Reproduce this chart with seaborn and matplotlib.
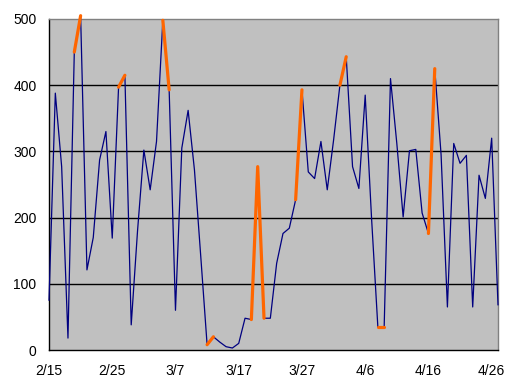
import numpy as np
import pandas as pd
import matplotlib
matplotlib.use("Agg")
import matplotlib.pyplot as plt
import seaborn as sns

# ---- data (daily values from 2/15 to 4/27) ----
blue_values = [75, 388, 277, 18, 450, 505, 121, 170, 287, 330,
               169, 397, 415, 38, 180, 302, 242, 315, 498, 393,
               60, 305, 362, 272, 141, 8, 20, 12, 5, 3,
               10, 48, 46, 277, 48, 48, 131, 176, 184, 227,
               393, 269, 259, 315, 242, 317, 400, 443, 277, 244,
               385, 200, 35, 35, 410, 312, 201, 301, 303, 207,
               176, 425, 295, 65, 312, 282, 294, 65, 264, 229,
               320, 68]
N = None
orange_values = [N, N, N, N, 450, 505, N, N, N, N,
                 N, 397, 415, N, N, N, N, N, 498, 393,
                 N, N, N, N, N, 8, 20, N, N, N,
                 N, N, 46, 277, 48, N, N, N, N, 227,
                 393, N, N, N, N, N, 400, 443, N, N,
                 N, N, 35, 35, N, N, N, N, N, N,
                 176, 425, N, N, N, N, N, N, N, N,
                 N, N]
tick_days = [0, 10, 20, 30, 40, 50, 60, 70]
tick_labels = ["2/15", "2/25", "3/7", "3/17", "3/27", "4/6", "4/16", "4/26"]
y_ticks = [0, 100, 200, 300, 400, 500]

days = np.arange(len(blue_values))
df_blue = pd.DataFrame({"day": days, "value": blue_values})
ov = pd.Series(orange_values, dtype=float)
seg = ov.isna().cumsum()
df_or = pd.DataFrame({"day": days, "value": ov, "seg": seg}).dropna()

sns.set_style("white")
plt.rcParams["font.family"] = ["Liberation Sans", "DejaVu Sans"]

fig = plt.figure(figsize=(5.22, 3.89), dpi=100)
ax = fig.add_axes([49/522, 1 - 350/389, (498 - 49)/522, (350 - 19)/389])
ax.set_facecolor("#C0C0C0")

for yv in y_ticks[1:-1]:
    ax.axhline(yv, color="black", lw=1.0, zorder=1)

sns.lineplot(data=df_blue, x="day", y="value", color="#000080", lw=0.9,
             ax=ax, zorder=3, estimator=None, clip_on=False)
sns.lineplot(data=df_or, x="day", y="value", units="seg", estimator=None,
             color="#FF6600", lw=2.3, ax=ax, zorder=4, clip_on=False)

ax.set_xlim(0, 71)
ax.set_ylim(0, 500)
ax.set_xticks(tick_days)
ax.set_xticklabels(tick_labels)
ax.set_yticks(y_ticks)
ax.set_xlabel("")
ax.set_ylabel("")
ax.tick_params(axis="both", direction="in", length=4, width=1, color="black",
               labelsize=10, labelcolor="black")
ax.tick_params(axis="x", pad=10)
ax.tick_params(axis="y", pad=9)

for side in ["left", "bottom"]:
    ax.spines[side].set_color("black")
    ax.spines[side].set_linewidth(1.0)
for side in ["top", "right"]:
    ax.spines[side].set_color("#808080")
    ax.spines[side].set_linewidth(1.0)
    ax.spines[side].set_visible(True)
ax.spines["left"].set_visible(True)
ax.spines["bottom"].set_visible(True)

fig.savefig("out.png", dpi=100, facecolor="white")
